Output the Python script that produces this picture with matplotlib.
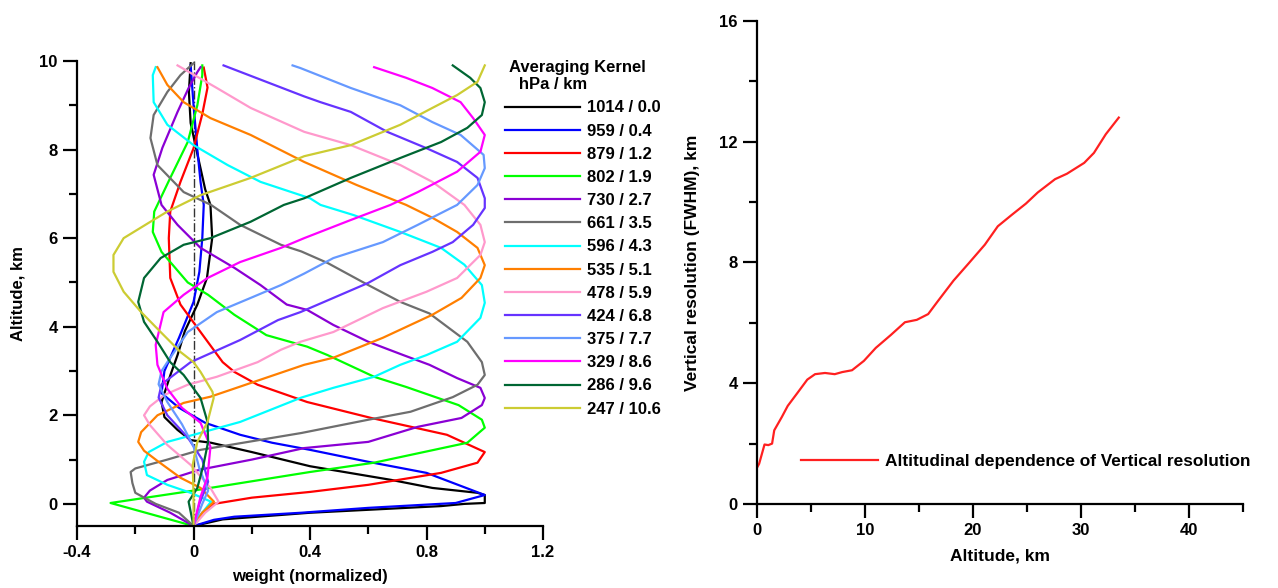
import numpy as np
import matplotlib
matplotlib.use("Agg")
import matplotlib.pyplot as plt
from matplotlib.ticker import MultipleLocator, FuncFormatter

plt.rcParams['font.family'] = ['Liberation Sans', 'DejaVu Sans']
plt.rcParams['font.weight'] = 'bold'

# averaging kernels, altitude (km) vs normalized weight
h_1014 = [-0.5, -0.35, -0.2, -0.05, 0.0, 0.02, 0.2, 0.25, 0.36, 0.54, 0.85, 1.17, 1.38, 1.44, 1.67, 1.96, 2.3, 2.9, 3.36, 3.9, 4.5, 5.1, 6.0, 6.75, 7.1, 7.9, 8.6, 9.3, 9.95]
w_1014 = [0, 0.1, 0.4, 0.85, 0.93, 1.0, 1.0, 0.975, 0.82, 0.68, 0.4, 0.2, 0.06, -0.01, -0.055, -0.1, -0.11, -0.08, -0.055, -0.03, 0.013, 0.046, 0.064, 0.058, 0.04, 0.013, -0.01, -0.016, -0.01]

h_959 = [-0.5, -0.36, -0.29, -0.2, -0.09, 0.02, 0.2, 0.7, 0.95, 1.22, 1.38, 1.56, 1.83, 2.17, 2.5, 3.0, 3.75, 4.56, 5.24, 6.0, 6.75, 7.27, 8.0, 9.0, 9.9]
w_959 = [0, 0.07, 0.14, 0.37, 0.6, 0.9, 1.0, 0.8, 0.6, 0.4, 0.27, 0.16, 0.04, -0.05, -0.11, -0.1, -0.05, 0.0, 0.02, 0.03, 0.035, 0.024, 0.013, 0.0, -0.01]

h_879 = [-0.5, -0.2, 0.0, 0.14, 0.27, 0.43, 0.7, 0.93, 1.17, 1.56, 1.94, 2.3, 2.69, 2.98, 3.2, 3.88, 4.5, 5.1, 6.0, 6.6, 7.27, 8.03, 8.8, 9.4, 9.85]
w_879 = [0, 0.03, 0.07, 0.2, 0.4, 0.6, 0.85, 0.975, 1.0, 0.87, 0.61, 0.39, 0.22, 0.14, 0.1, 0.024, -0.045, -0.08, -0.085, -0.08, -0.045, 0.0, 0.03, 0.048, 0.035]

h_802 = [-0.5, 0.02, 0.3, 0.72, 0.93, 1.38, 1.72, 1.9, 2.23, 2.64, 2.87, 3.36, 3.55, 3.81, 4.27, 4.72, 5.0, 5.69, 6.14, 6.6, 7.36, 8.17, 9.0, 9.68, 9.9]
w_802 = [0, -0.285, 0.0, 0.4, 0.62, 0.94, 1.0, 0.99, 0.91, 0.73, 0.62, 0.46, 0.39, 0.25, 0.14, 0.05, -0.02, -0.11, -0.14, -0.135, -0.08, -0.02, 0.013, 0.03, 0.03]

h_730 = [-0.5, -0.2, 0.05, 0.14, 0.3, 0.54, 0.77, 1.0, 1.26, 1.4, 1.74, 1.94, 2.23, 2.39, 2.62, 2.84, 3.14, 3.36, 3.66, 4.04, 4.38, 4.5, 4.94, 5.33, 5.78, 6.3, 6.75, 7.43, 8.04, 8.85, 9.39, 9.75, 9.86]
w_730 = [0, -0.08, -0.16, -0.17, -0.15, -0.09, 0.02, 0.2, 0.38, 0.6, 0.77, 0.92, 0.99, 1.0, 0.985, 0.905, 0.81, 0.72, 0.6, 0.48, 0.39, 0.32, 0.23, 0.14, 0.024, -0.055, -0.11, -0.137, -0.107, -0.055, -0.017, 0.013, 0.024]

h_661 = [-0.5, -0.2, 0.0, 0.25, 0.47, 0.72, 0.8, 1.0, 1.22, 1.6, 1.9, 2.08, 2.41, 2.69, 2.91, 3.2, 3.66, 4.3, 4.56, 4.94, 5.44, 5.7, 5.85, 6.3, 6.75, 7.04, 7.65, 8.26, 8.78, 9.3, 9.68, 9.95]
w_661 = [0, -0.05, -0.13, -0.2, -0.21, -0.216, -0.2, -0.09, 0.024, 0.37, 0.6, 0.745, 0.89, 0.975, 1.0, 0.99, 0.94, 0.81, 0.71, 0.6, 0.46, 0.37, 0.3, 0.16, 0.06, -0.034, -0.124, -0.148, -0.137, -0.09, -0.045, 0.0]

h_596 = [-0.5, -0.25, 0.05, 0.25, 0.43, 0.65, 0.95, 1.17, 1.4, 1.56, 1.85, 2.4, 2.62, 2.87, 3.14, 3.36, 3.66, 4.2, 4.54, 4.94, 5.4, 5.78, 6.14, 6.52, 6.75, 6.9, 7.27, 7.65, 8.1, 8.56, 9.07, 9.68, 9.86]
w_596 = [0, 0.024, 0.06, -0.01, -0.09, -0.16, -0.17, -0.154, -0.09, 0.0, 0.16, 0.37, 0.48, 0.62, 0.71, 0.8, 0.905, 0.985, 1.0, 0.99, 0.93, 0.85, 0.71, 0.55, 0.436, 0.4, 0.23, 0.117, 0.0, -0.09, -0.137, -0.14, -0.13]

h_535 = [-0.5, -0.2, 0.05, 0.36, 0.59, 0.95, 1.2, 1.4, 1.62, 2.0, 2.28, 2.42, 3.14, 3.3, 3.75, 4.27, 4.65, 5.1, 5.39, 5.78, 6.14, 6.46, 6.75, 7.2, 7.72, 8.33, 8.71, 9.07, 9.46, 9.86]
w_535 = [0, 0.03, 0.07, 0.024, -0.045, -0.12, -0.17, -0.19, -0.18, -0.124, -0.034, 0.058, 0.38, 0.48, 0.65, 0.82, 0.92, 0.985, 1.0, 0.975, 0.905, 0.82, 0.73, 0.56, 0.38, 0.196, 0.058, -0.034, -0.09, -0.124]

h_478 = [-0.5, -0.2, 0.05, 0.36, 0.88, 1.33, 1.78, 2.0, 2.2, 2.46, 2.69, 2.87, 3.2, 3.48, 3.66, 3.88, 4.42, 4.79, 5.1, 5.62, 5.91, 6.3, 6.75, 7.27, 7.65, 8.1, 8.4, 8.94, 9.39, 9.9]
w_478 = [0, 0.04, 0.086, 0.058, -0.01, -0.09, -0.15, -0.17, -0.15, -0.1, -0.02, 0.08, 0.22, 0.3, 0.367, 0.48, 0.65, 0.8, 0.905, 0.985, 1.0, 0.985, 0.93, 0.82, 0.71, 0.54, 0.38, 0.196, 0.08, -0.055]

h_424 = [-0.5, 0.0, 0.5, 1.0, 1.5, 2.0, 2.4, 2.7, 3.0, 3.2, 3.7, 4.15, 4.33, 4.65, 4.99, 5.39, 5.69, 5.91, 6.3, 6.68, 6.9, 7.36, 7.72, 8.03, 8.4, 8.85, 9.07, 9.2, 9.9]
w_424 = [0, 0.02, 0.05, 0.03, -0.02, -0.09, -0.12, -0.11, -0.05, -0.01, 0.16, 0.29, 0.367, 0.48, 0.6, 0.71, 0.82, 0.89, 0.96, 1.0, 1.0, 0.975, 0.905, 0.8, 0.665, 0.54, 0.436, 0.38, 0.103]

h_375 = [-0.5, 0.0, 0.3, 0.8, 1.3, 1.8, 2.3, 2.7, 3.0, 3.2, 3.88, 4.33, 4.65, 4.94, 5.2, 5.55, 5.91, 6.3, 6.75, 7.2, 7.58, 7.88, 8.33, 8.62, 9.0, 9.39, 9.84, 9.9]
w_375 = [0, 0.03, 0.05, 0.02, 0.0, -0.04, -0.09, -0.12, -0.11, -0.09, -0.02, 0.08, 0.196, 0.3, 0.38, 0.48, 0.65, 0.77, 0.905, 0.975, 1.0, 0.996, 0.917, 0.82, 0.71, 0.54, 0.367, 0.34]

h_329 = [-0.5, 0.16, 0.61, 1.29, 1.83, 2.17, 2.6, 3.14, 3.59, 4.33, 4.72, 5.1, 5.46, 5.78, 6.0, 6.41, 6.75, 7.04, 7.5, 7.95, 8.33, 8.71, 9.07, 9.39, 9.62, 9.86]
w_329 = [0, 0.024, 0.048, 0.058, 0.024, -0.04, -0.09, -0.124, -0.13, -0.103, -0.034, 0.048, 0.16, 0.3, 0.38, 0.54, 0.676, 0.77, 0.905, 0.985, 1.0, 0.96, 0.917, 0.82, 0.73, 0.62]

h_286 = [-0.5, 0.05, 0.36, 0.88, 1.4, 1.85, 2.39, 2.91, 3.2, 3.66, 4.11, 4.56, 5.1, 5.55, 5.85, 6.0, 6.37, 6.75, 6.9, 7.36, 7.81, 8.17, 8.49, 8.78, 9.07, 9.39, 9.62, 9.9]
w_286 = [0, -0.017, 0.013, 0.034, 0.05, 0.048, 0.024, -0.034, -0.08, -0.124, -0.17, -0.19, -0.17, -0.113, -0.034, 0.058, 0.196, 0.31, 0.38, 0.54, 0.71, 0.85, 0.94, 0.99, 1.0, 0.985, 0.95, 0.89]

h_247 = [-0.5, 0.2, 0.88, 1.4, 1.85, 2.39, 2.53, 2.98, 3.2, 3.43, 3.88, 4.33, 4.79, 5.24, 5.62, 6.0, 6.37, 6.6, 6.97, 7.36, 7.85, 8.1, 8.56, 8.94, 9.23, 9.53, 9.9]
w_247 = [0, 0.0, -0.003, 0.013, 0.048, 0.069, 0.065, 0.024, 0.0, -0.045, -0.113, -0.18, -0.24, -0.275, -0.275, -0.24, -0.148, -0.09, 0.024, 0.196, 0.38, 0.54, 0.71, 0.82, 0.905, 0.975, 1.0]

kernel_labels = ['1014 / 0.0', '959 / 0.4', '879 / 1.2', '802 / 1.9', '730 / 2.7', '661 / 3.5', '596 / 4.3',
                 '535 / 5.1', '478 / 5.9', '424 / 6.8', '375 / 7.7', '329 / 8.6', '286 / 9.6', '247 / 10.6']
kernel_colors = ['#000000', '#0000ff', '#ff0000', '#00ff00', '#8a00d4', '#6e6e6e', '#00ffff',
                 '#ff7f00', '#ff99cc', '#6633ff', '#6699ff', '#ff00ff', '#006633', '#cccc33']
kernels = [(h_1014, w_1014), (h_959, w_959), (h_879, w_879), (h_802, w_802), (h_730, w_730),
           (h_661, w_661), (h_596, w_596), (h_535, w_535), (h_478, w_478), (h_424, w_424),
           (h_375, w_375), (h_329, w_329), (h_286, w_286), (h_247, w_247)]

# vertical resolution vs altitude
alt_km = [0, 0.2, 0.7, 1.05, 1.4, 1.6, 2.3, 2.85, 3.75, 4.66, 5.38, 6.3, 7.2, 7.9, 8.8, 9.9, 11.0, 12.4, 13.7,
          14.8, 15.85, 16.75, 18.2, 19.6, 21.1, 22.3, 23.6, 24.9, 26.0, 27.6, 28.7, 30.3, 31.2, 32.3, 33.5]
fwhm_km = [1.2, 1.33, 1.97, 1.95, 2.0, 2.44, 2.88, 3.25, 3.68, 4.12, 4.3, 4.34, 4.3, 4.37, 4.43, 4.74, 5.17, 5.6,
           6.02, 6.1, 6.29, 6.72, 7.4, 7.97, 8.59, 9.2, 9.58, 9.95, 10.32, 10.76, 10.94, 11.3, 11.63, 12.25, 12.8]

fig = plt.figure(figsize=(12.78, 5.88), dpi=100)
ax1 = fig.add_axes([0.0603, 0.1054, 0.3646, 0.7909])
ax2 = fig.add_axes([0.5923, 0.1429, 0.3803, 0.8214])

def style_axes(ax):
    for s in ['top', 'right']:
        ax.spines[s].set_visible(False)
    for s in ['left', 'bottom']:
        ax.spines[s].set_linewidth(1.6)
    ax.tick_params(which='major', direction='out', length=10, width=1.6, labelsize=12, pad=4)
    ax.tick_params(which='minor', direction='out', length=6, width=1.6)

# left: averaging kernels
ax1.axvline(0, color='#333333', lw=1.0, ls='-.', zorder=1)
for (h, w), lab, col in zip(kernels, kernel_labels, kernel_colors):
    ax1.plot(w, h, color=col, lw=1.6, label=lab, zorder=2)
ax1.set_xlim(-0.4, 1.2)
ax1.set_ylim(-0.5, 10)
ax1.xaxis.set_major_locator(MultipleLocator(0.4))
ax1.xaxis.set_minor_locator(MultipleLocator(0.2))
ax1.yaxis.set_major_locator(MultipleLocator(2))
ax1.yaxis.set_minor_locator(MultipleLocator(1))
ax1.xaxis.set_major_formatter(FuncFormatter(lambda v, p: '{:g}'.format(round(v, 2))))
style_axes(ax1)
ax1.set_xlabel('weight (normalized)', fontsize=12, fontweight='bold', labelpad=6)
ax1.set_ylabel('Altitude, km', fontsize=12, fontweight='bold', labelpad=10)
fig.legend(*ax1.get_legend_handles_labels(), loc='upper left', bbox_to_anchor=(0.386, 0.918),
           frameon=False, title=' Averaging Kernel\n   hPa / km', alignment='left',
           title_fontproperties={'weight': 'bold', 'size': 12}, prop={'weight': 'bold', 'size': 12},
           handlelength=4.5, handletextpad=0.4, labelspacing=0.49, borderpad=0.2)

# right: vertical resolution
ax2.plot(alt_km, fwhm_km, color='#ff2020', lw=1.6, label='Altitudinal dependence of Vertical resolution')
ax2.set_xlim(0, 45)
ax2.set_ylim(0, 16)
ax2.xaxis.set_major_locator(MultipleLocator(10))
ax2.xaxis.set_minor_locator(MultipleLocator(5))
ax2.yaxis.set_major_locator(MultipleLocator(4))
ax2.yaxis.set_minor_locator(MultipleLocator(2))
style_axes(ax2)
ax2.set_xlabel('Altitude, km', fontsize=12.5, fontweight='bold', labelpad=7)
ax2.set_ylabel('Vertical resolution (FWHM), km', fontsize=12.5, fontweight='bold', labelpad=14)
ax2.legend(loc='center left', bbox_to_anchor=(0.058, 0.087), frameon=False,
           prop={'weight': 'bold', 'size': 12.4}, handlelength=4.5, handletextpad=0.4)

fig.savefig('out.png', dpi=100)
